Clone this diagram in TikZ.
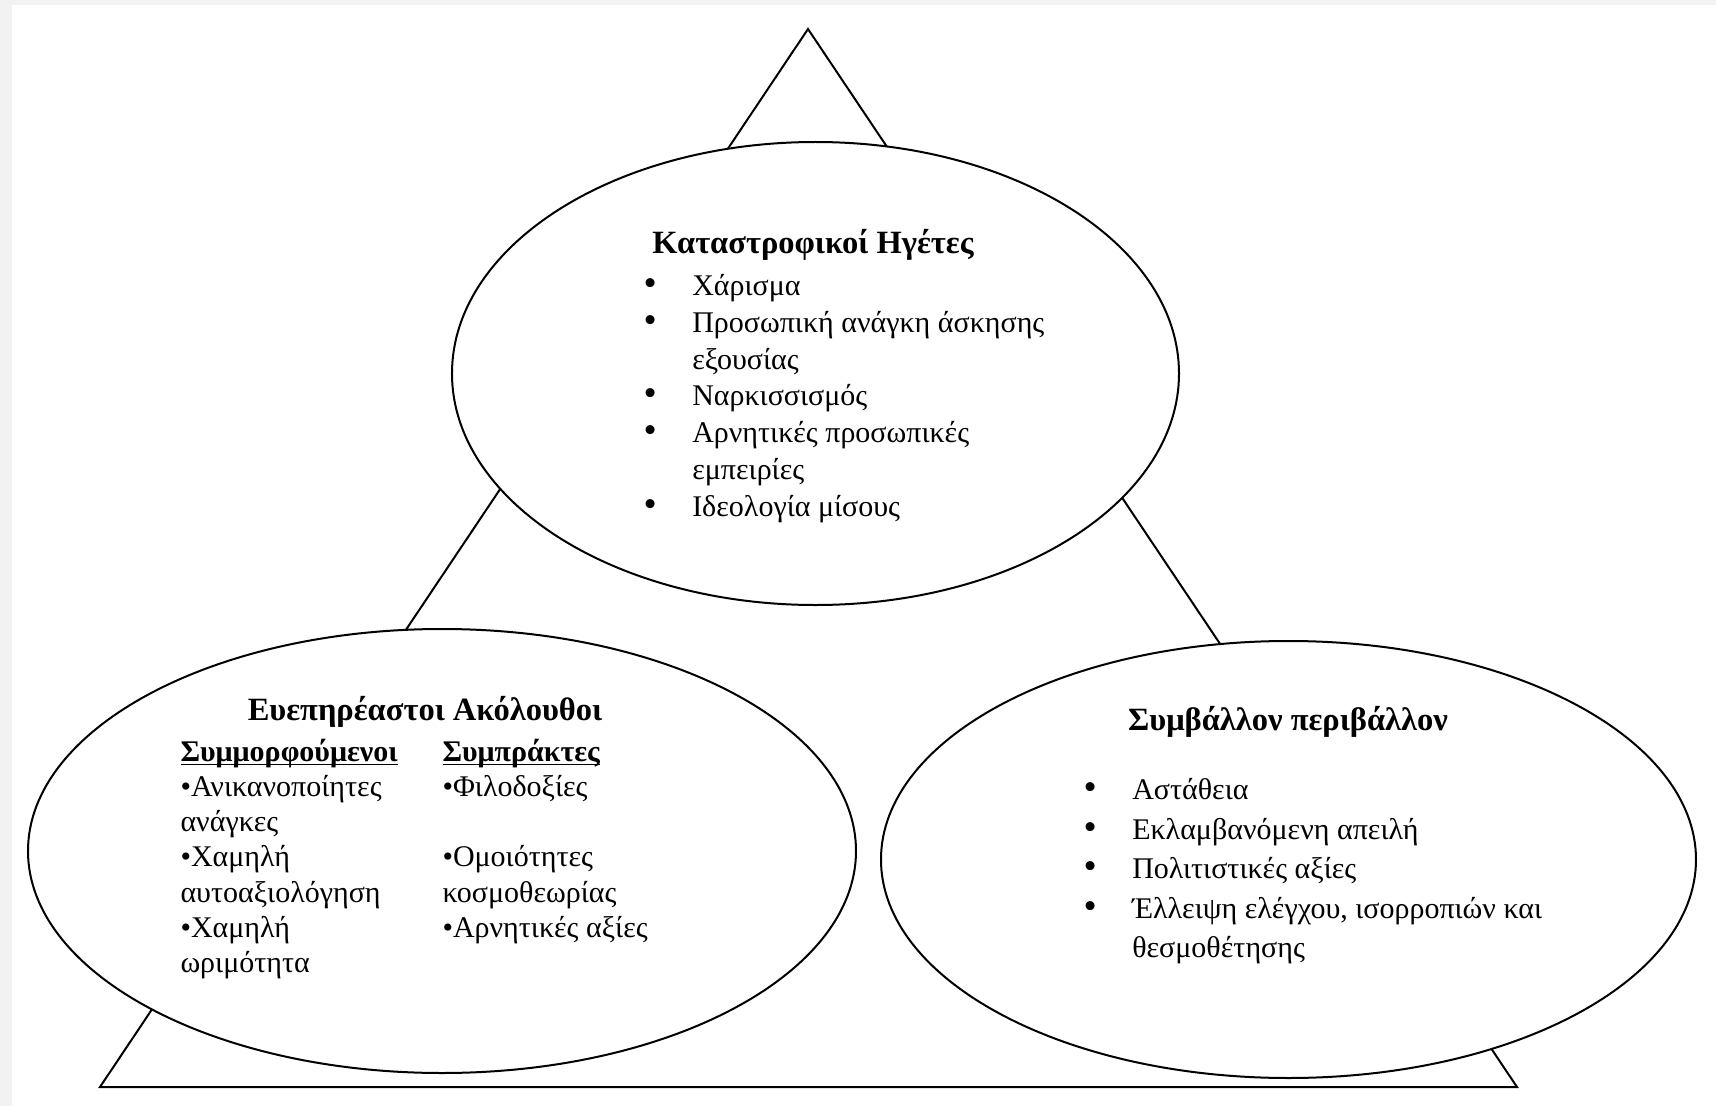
\documentclass[tikz,border=0pt]{standalone}
\usepackage{fontspec}
\setmainfont{Liberation Serif}
\usepackage{tikz}
\usetikzlibrary{shapes.geometric,positioning}
\definecolor{framegray}{RGB}{242,242,242}
\newcommand{\bul}{\makebox[19.5pt][l]{\fontsize{15}{15}\selectfont\textbullet}}
\newcommand{\hang}{\hspace*{19.5pt}}
\newcommand{\colhead}[1]{\underline{\smash{\textbf{#1}}}\strut}

\begin{document}
\begin{tikzpicture}[x=0.4pt, y=-0.4pt,
  bubble/.style={ellipse, draw, fill=white, line width=0.8pt, inner sep=0pt},
  heading/.style={font=\bfseries\fontsize{13}{15}\selectfont},
  itemlist/.style={anchor=north west, align=left, inner sep=0pt,
                   font=\fontsize{12}{14.5}\selectfont}
]
\fill[framegray] (0,0) rectangle (1716,1106);
\fill[white] (12,5) rectangle (1716,1106);
\useasboundingbox (0,0) rectangle (1716,1106);

% triangle behind the three ellipses
\coordinate (apex) at (808,29);
\coordinate (baseL) at (100,1087);
\coordinate (baseR) at (1517,1087);
\draw[line width=0.8pt] (apex) -- (baseL) -- (baseR) -- cycle;

\node[bubble, minimum width=290.8pt, minimum height=185.2pt] (leaders) at (815.5,373.5) {};
\node[bubble, minimum width=331.2pt, minimum height=177.6pt] (followers) at (442,851) {};
\node[bubble, minimum width=326pt, minimum height=174.8pt] (environ) at (1288.5,859.5) {};

% leaders
\node[heading] (leadtitle) at (813,245) {Καταστροφικοί Ηγέτες};
\node[itemlist, font=\fontsize{12}{14.7}\selectfont] (leadlist) at (643,274)
  {\bul Χάρισμα\\
   \bul Προσωπική ανάγκη άσκησης\\
   \hang εξουσίας\\
   \bul Ναρκισσισμός\\
   \bul Αρνητικές προσωπικές\\
   \hang εμπειρίες\\
   \bul Ιδεολογία μίσους};

% followers
\node[heading] (followtitle) at (425,712) {Ευεπηρέαστοι Ακόλουθοι};
\node[itemlist, font=\fontsize{12}{14.1}\selectfont] (conform) at (180,736)
  {\colhead{Συμμορφούμενοι}\\
   •Ανικανοποίητες\\
   ανάγκες\\
   •Χαμηλή\\
   αυτοαξιολόγηση\\
   •Χαμηλή\\
   ωριμότητα};
\node[itemlist, font=\fontsize{12}{14.1}\selectfont] (collude) at (442,736)
  {\colhead{Συμπράκτες}\\
   •Φιλοδοξίες\\[14.1pt]
   •Ομοιότητες\\
   κοσμοθεωρίας\\
   •Αρνητικές αξίες};

% environment
\node[heading] (envtitle) at (1288,722) {Συμβάλλον περιβάλλον};
\node[itemlist, font=\fontsize{12}{15.8}\selectfont] (envlist) at (1083,778)
  {\bul Αστάθεια\\
   \bul Εκλαμβανόμενη απειλή\\
   \bul Πολιτιστικές αξίες\\
   \bul Έλλειψη ελέγχου, ισορροπιών και\\
   \hang θεσμοθέτησης};
\end{tikzpicture}
\end{document}
